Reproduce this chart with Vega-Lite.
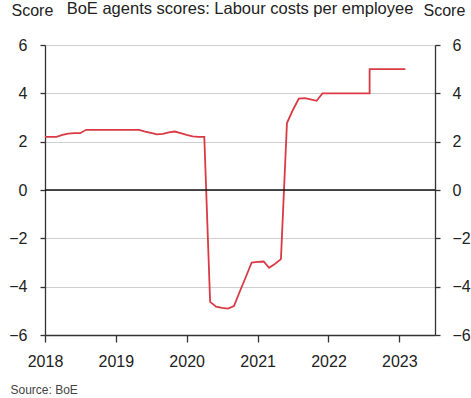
{
  "$schema": "https://vega.github.io/schema/vega-lite/v6.json",
  "width": 390,
  "height": 290,
  "autosize": "none",
  "padding": {"left": 45, "top": 45, "right": 36, "bottom": 63},
  "background": "white",
  "config": {
    "font": "Liberation Sans",
    "view": {"stroke": null},
    "axis": {"labelFont": "Liberation Sans", "titleFont": "Liberation Sans", "labelFontSize": 16, "labelColor": "#222222", "titleColor": "#222222", "titleFontWeight": "normal", "domainColor": "#333333", "tickColor": "#333333", "domainWidth": 1.3, "tickWidth": 1.3}
  },
  "title": {
    "text": "BoE agents scores: Labour costs per employee",
    "font": "Liberation Sans",
    "fontSize": 16.5,
    "fontWeight": "normal",
    "color": "#222222",
    "anchor": "middle",
    "frame": "group",
    "baseline": "middle",
    "offset": 0,
    "dy": 23
  },
  "layer": [
    {
      "data": {"values": [
        {"date": "2018-01-01", "score": 2.2},
        {"date": "2018-02-01", "score": 2.2},
        {"date": "2018-03-01", "score": 2.2},
        {"date": "2018-04-01", "score": 2.28},
        {"date": "2018-05-01", "score": 2.33},
        {"date": "2018-06-01", "score": 2.35},
        {"date": "2018-07-01", "score": 2.35},
        {"date": "2018-08-01", "score": 2.49},
        {"date": "2018-09-01", "score": 2.49},
        {"date": "2018-10-01", "score": 2.49},
        {"date": "2018-11-01", "score": 2.49},
        {"date": "2018-12-01", "score": 2.49},
        {"date": "2019-01-01", "score": 2.49},
        {"date": "2019-02-01", "score": 2.49},
        {"date": "2019-03-01", "score": 2.49},
        {"date": "2019-04-01", "score": 2.49},
        {"date": "2019-05-01", "score": 2.49},
        {"date": "2019-06-01", "score": 2.42},
        {"date": "2019-07-01", "score": 2.36},
        {"date": "2019-08-01", "score": 2.3},
        {"date": "2019-09-01", "score": 2.32},
        {"date": "2019-10-01", "score": 2.38},
        {"date": "2019-11-01", "score": 2.42},
        {"date": "2019-12-01", "score": 2.35},
        {"date": "2020-01-01", "score": 2.28},
        {"date": "2020-02-01", "score": 2.22},
        {"date": "2020-03-01", "score": 2.2},
        {"date": "2020-04-01", "score": 2.2},
        {"date": "2020-05-01", "score": -4.63},
        {"date": "2020-06-01", "score": -4.83},
        {"date": "2020-07-01", "score": -4.88},
        {"date": "2020-08-01", "score": -4.91},
        {"date": "2020-09-01", "score": -4.8},
        {"date": "2020-10-01", "score": -4.2},
        {"date": "2020-11-01", "score": -3.6},
        {"date": "2020-12-01", "score": -3.0},
        {"date": "2021-01-01", "score": -2.97},
        {"date": "2021-02-01", "score": -2.96},
        {"date": "2021-03-01", "score": -3.22},
        {"date": "2021-04-01", "score": -3.05},
        {"date": "2021-05-01", "score": -2.86},
        {"date": "2021-06-01", "score": 2.77},
        {"date": "2021-07-01", "score": 3.3},
        {"date": "2021-08-01", "score": 3.78},
        {"date": "2021-09-01", "score": 3.8},
        {"date": "2021-10-01", "score": 3.75},
        {"date": "2021-11-01", "score": 3.69},
        {"date": "2021-12-01", "score": 4.0},
        {"date": "2022-01-01", "score": 4.0},
        {"date": "2022-02-01", "score": 4.0},
        {"date": "2022-03-01", "score": 4.0},
        {"date": "2022-04-01", "score": 4.0},
        {"date": "2022-05-01", "score": 4.0},
        {"date": "2022-06-01", "score": 4.0},
        {"date": "2022-07-01", "score": 4.0},
        {"date": "2022-08-01", "score": 4.0},
        {"date": "2022-08-01", "score": 5.0},
        {"date": "2022-09-01", "score": 5.0},
        {"date": "2022-10-01", "score": 5.0},
        {"date": "2022-11-01", "score": 5.0},
        {"date": "2022-12-01", "score": 5.0},
        {"date": "2023-01-01", "score": 5.0},
        {"date": "2023-02-01", "score": 5.0}
      ]},
      "mark": {"type": "line", "color": "#d93a44", "strokeWidth": 1.8},
      "encoding": {
        "x": {
          "field": "date", "type": "temporal",
          "scale": {"domain": ["2018-01-01", "2023-07-04"]},
          "axis": {
            "values": [{"year": 2018}, {"year": 2019}, {"year": 2020}, {"year": 2021}, {"year": 2022}, {"year": 2023}],
            "format": "%Y", "grid": false, "tickSize": 7, "labelPadding": 11,
            "title": "Source: BoE", "titleFontSize": 12, "titleColor": "#444444",
            "titleAnchor": "start", "titleAlign": "left", "titleAngle": 0,
            "titleX": -35, "titleY": 54, "titleBaseline": "middle", "labelFlush": false
          }
        },
        "y": {
          "field": "score", "type": "quantitative",
          "scale": {"domain": [-6, 6], "nice": false, "zero": false},
          "axis": {
            "values": [-6, -4, -2, 0, 2, 4, 6],
            "grid": true, "gridColor": "#cfcfcf", "gridWidth": 1,
            "tickSize": 5, "labelPadding": 13,
            "title": "Score", "titleFontSize": 16, "titleAngle": 0,
            "titleAlign": "left", "titleBaseline": "middle", "titleX": -34, "titleY": -35
          }
        }
      }
    },
    {
      "data": {"values": [{"base": 0}]},
      "mark": {"type": "rule", "color": "#111111", "strokeWidth": 1.3},
      "encoding": {"y": {"field": "base", "type": "quantitative", "axis": null}}
    },
    {
      "data": {"values": [{"edge": -6}]},
      "mark": {"type": "rule", "opacity": 0},
      "encoding": {
        "y": {
          "field": "edge", "type": "quantitative",
          "axis": {
            "orient": "right",
            "values": [-6, -4, -2, 0, 2, 4, 6],
            "grid": false, "tickSize": 5, "labelPadding": 12,
            "title": "Score", "titleFontSize": 16, "titleAngle": 0,
            "titleAlign": "left", "titleBaseline": "middle", "titleX": -12, "titleY": -35
          }
        }
      }
    }
  ],
  "resolve": {"axis": {"y": "independent"}}
}
